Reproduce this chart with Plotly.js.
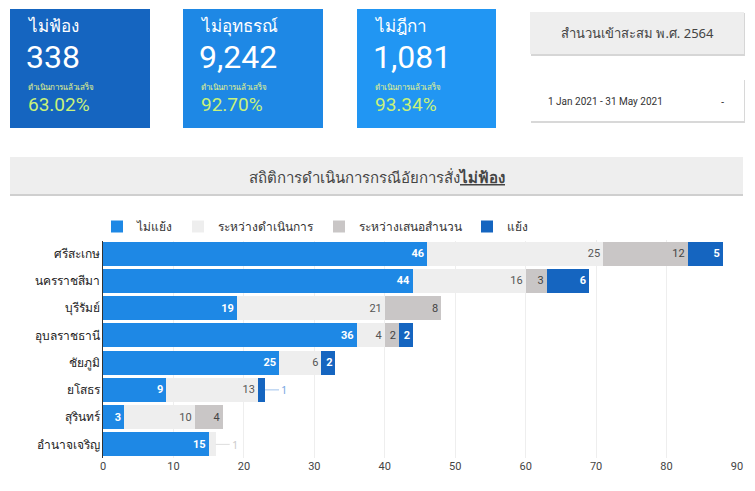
<!DOCTYPE html>
<html><head><meta charset="utf-8">
<script src="https://cdn.plot.ly/plotly-3.0.1.min.js"></script>
<style>body{margin:0;background:#fff}#chart{width:755px;height:491px}</style>
</head><body><div id="chart"></div>
<script>
// ข้อมูลจังหวัด
const provinces = ['ศรีสะเกษ','นครราชสีมา','บุรีรัมย์','อุบลราชธานี','ชัยภูมิ','ยโสธร','สุรินทร์','อำนาจเจริญ'];
const notSued   = [46, 44, 19, 36, 25, 9, 3, 15];
const inProcess = [25, 16, 21, 4, 6, 13, 10, 1];
const proposing = [12, 3, 8, 2, 0, 0, 4, 0];
const sued      = [5, 6, 0, 2, 2, 1, 0, 0];
const seriesNames = ['ไม่แย้ง','ระหว่างดำเนินการ','ระหว่างเสนอสำนวน','แย้ง'];
const seriesColors = ['#1e88e5','#eeeeee','#c9c6c6','#1565c0'];
const textColors = ['#ffffff','#555555','#444444','#ffffff'];

// การ์ดด้านบน
const cardTitles = ['ไม่ฟ้อง','ไม่อุทธรณ์','ไม่ฎีกา'];
const cardValues = ['338','9,242','1,081'];
const cardPercents = ['63.02%','92.70%','93.34%'];

const W = 755, H = 491;
const px = x => x / W, py = y => 1 - y / H;

const allSeries = [notSued, inProcess, proposing, sued];
const traces = allSeries.map((vals, i) => ({
  type: 'bar', orientation: 'h', name: seriesNames[i],
  y: provinces, x: vals,
  marker: {color: seriesColors[i]},
  text: vals.map(v => v > 1 ? String(v) : ''),
  textposition: 'inside', insidetextanchor: 'end',
  textfont: {color: textColors[i], size: 11, family: 'Roboto', weight: i === 0 || i === 3 ? 'bold' : 'normal'},
  hoverinfo: 'x+name'
}));

const shapes = [], annotations = [];
// ป้ายค่า 1 นอกแท่ง
provinces.forEach((p, r) => {
  let cum = 0;
  allSeries.forEach((vals, i) => {
    cum += vals[r];
    if (vals[r] === 1) {
      annotations.push({x: cum, y: p, xref: 'x', yref: 'y', text: '1', showarrow: true,
        ax: 14, ay: 0, arrowhead: 0, arrowcolor: i === 3 ? '#9fc3ec' : '#dddddd', arrowwidth: 1,
        font: {size: 11, color: i === 3 ? '#7aa9e3' : '#cccccc'}, xanchor: 'left'});
    }
  });
});

const txt = (x, y, text, font, xa) => annotations.push({xref: 'paper', yref: 'paper', x: px(x), y: py(y), text: text,
  showarrow: false, xanchor: xa || 'left', yanchor: 'middle', font: font});

const cardX = [[10,150],[183,323],[357,496]];
const cardColors = ['#1565c0','#1e88e5','#2196f3'];
cardX.forEach((c, i) => {
  shapes.push({type: 'rect', xref: 'paper', yref: 'paper', x0: px(c[0]), x1: px(c[1]), y0: py(128), y1: py(9), fillcolor: cardColors[i], line: {width: 0}, layer: 'below'});
  txt(c[0] + 15, 25, cardTitles[i], {size: 17, color: '#fff', family: 'Noto Sans'});
  txt(c[0] + 14, 57, cardValues[i], {size: 32, color: '#fff', family: 'Roboto'});
  txt(c[0] + 16, 86, 'ดำเนินการแล้วเสร็จ', {size: 8, color: '#e6f58a', family: 'Noto Sans'});
  txt(c[0] + 16, 104, cardPercents[i], {size: 19, color: '#c9f27a', family: 'Roboto'});
});
// กล่องด้านขวา
shapes.push({type: 'rect', xref: 'paper', yref: 'paper', x0: px(531), x1: px(745), y0: py(56), y1: py(13), fillcolor: '#d6d6d6', line: {width: 0}, layer: 'below'});
shapes.push({type: 'rect', xref: 'paper', yref: 'paper', x0: px(530), x1: px(744), y0: py(54), y1: py(12), fillcolor: '#eeeeee', line: {width: 0}, layer: 'below'});
txt(637, 33, 'สำนวนเข้าสะสม พ.ศ. 2564', {size: 13, color: '#444', family: 'Noto Sans'}, 'center');
shapes.push({type: 'rect', xref: 'paper', yref: 'paper', x0: px(531), x1: px(745), y0: py(123), y1: py(80), fillcolor: '#d8d8d8', line: {width: 0}, layer: 'below'});
shapes.push({type: 'rect', xref: 'paper', yref: 'paper', x0: px(530), x1: px(744), y0: py(121), y1: py(79), fillcolor: '#ffffff', line: {width: 0}, layer: 'below'});
txt(546, 101, '1 Jan 2021 - 31 May 2021', {size: 10, color: '#333', family: 'Roboto'});
txt(722, 101, '-', {size: 10, color: '#333'}, 'center');
// แถบหัวข้อ
shapes.push({type: 'rect', xref: 'paper', yref: 'paper', x0: px(10), x1: px(743), y0: py(196), y1: py(158), fillcolor: '#cfcfcf', line: {width: 0}, layer: 'below'});
shapes.push({type: 'rect', xref: 'paper', yref: 'paper', x0: px(10), x1: px(743), y0: py(194), y1: py(157), fillcolor: '#eeeeee', line: {width: 0}, layer: 'below'});
txt(377, 177, 'สถิติการดำเนินการกรณีอัยการสั่ง<b><u>ไม่ฟ้อง</u></b>', {size: 15, color: '#444', family: 'Noto Sans'}, 'center');

const layout = {
  width: W, height: H, margin: {l: 0, r: 0, t: 0, b: 0},
  paper_bgcolor: '#fff', plot_bgcolor: '#fff',
  barmode: 'stack', bargap: 0.12,
  font: {family: 'Noto Sans, Roboto', size: 11, color: '#333'},
  xaxis: {domain: [px(103), px(737)], anchor: 'y', range: [0, 90], dtick: 10, gridcolor: '#eeeeee', zeroline: false, tickfont: {size: 11, family: 'Roboto', color: '#444'}},
  yaxis: {domain: [py(458), py(240)], autorange: 'reversed', showline: true, linecolor: '#333', ticks: '', ticklen: 0, tickfont: {size: 12, color: '#222'}},
  legend: {orientation: 'h', x: px(97), y: py(212), xanchor: 'left', yanchor: 'top', font: {size: 12, color: '#333'}, traceorder: 'normal'},
  shapes: shapes, annotations: annotations
};
Plotly.newPlot('chart', traces, layout, {displayModeBar: false});
</script></body></html>
